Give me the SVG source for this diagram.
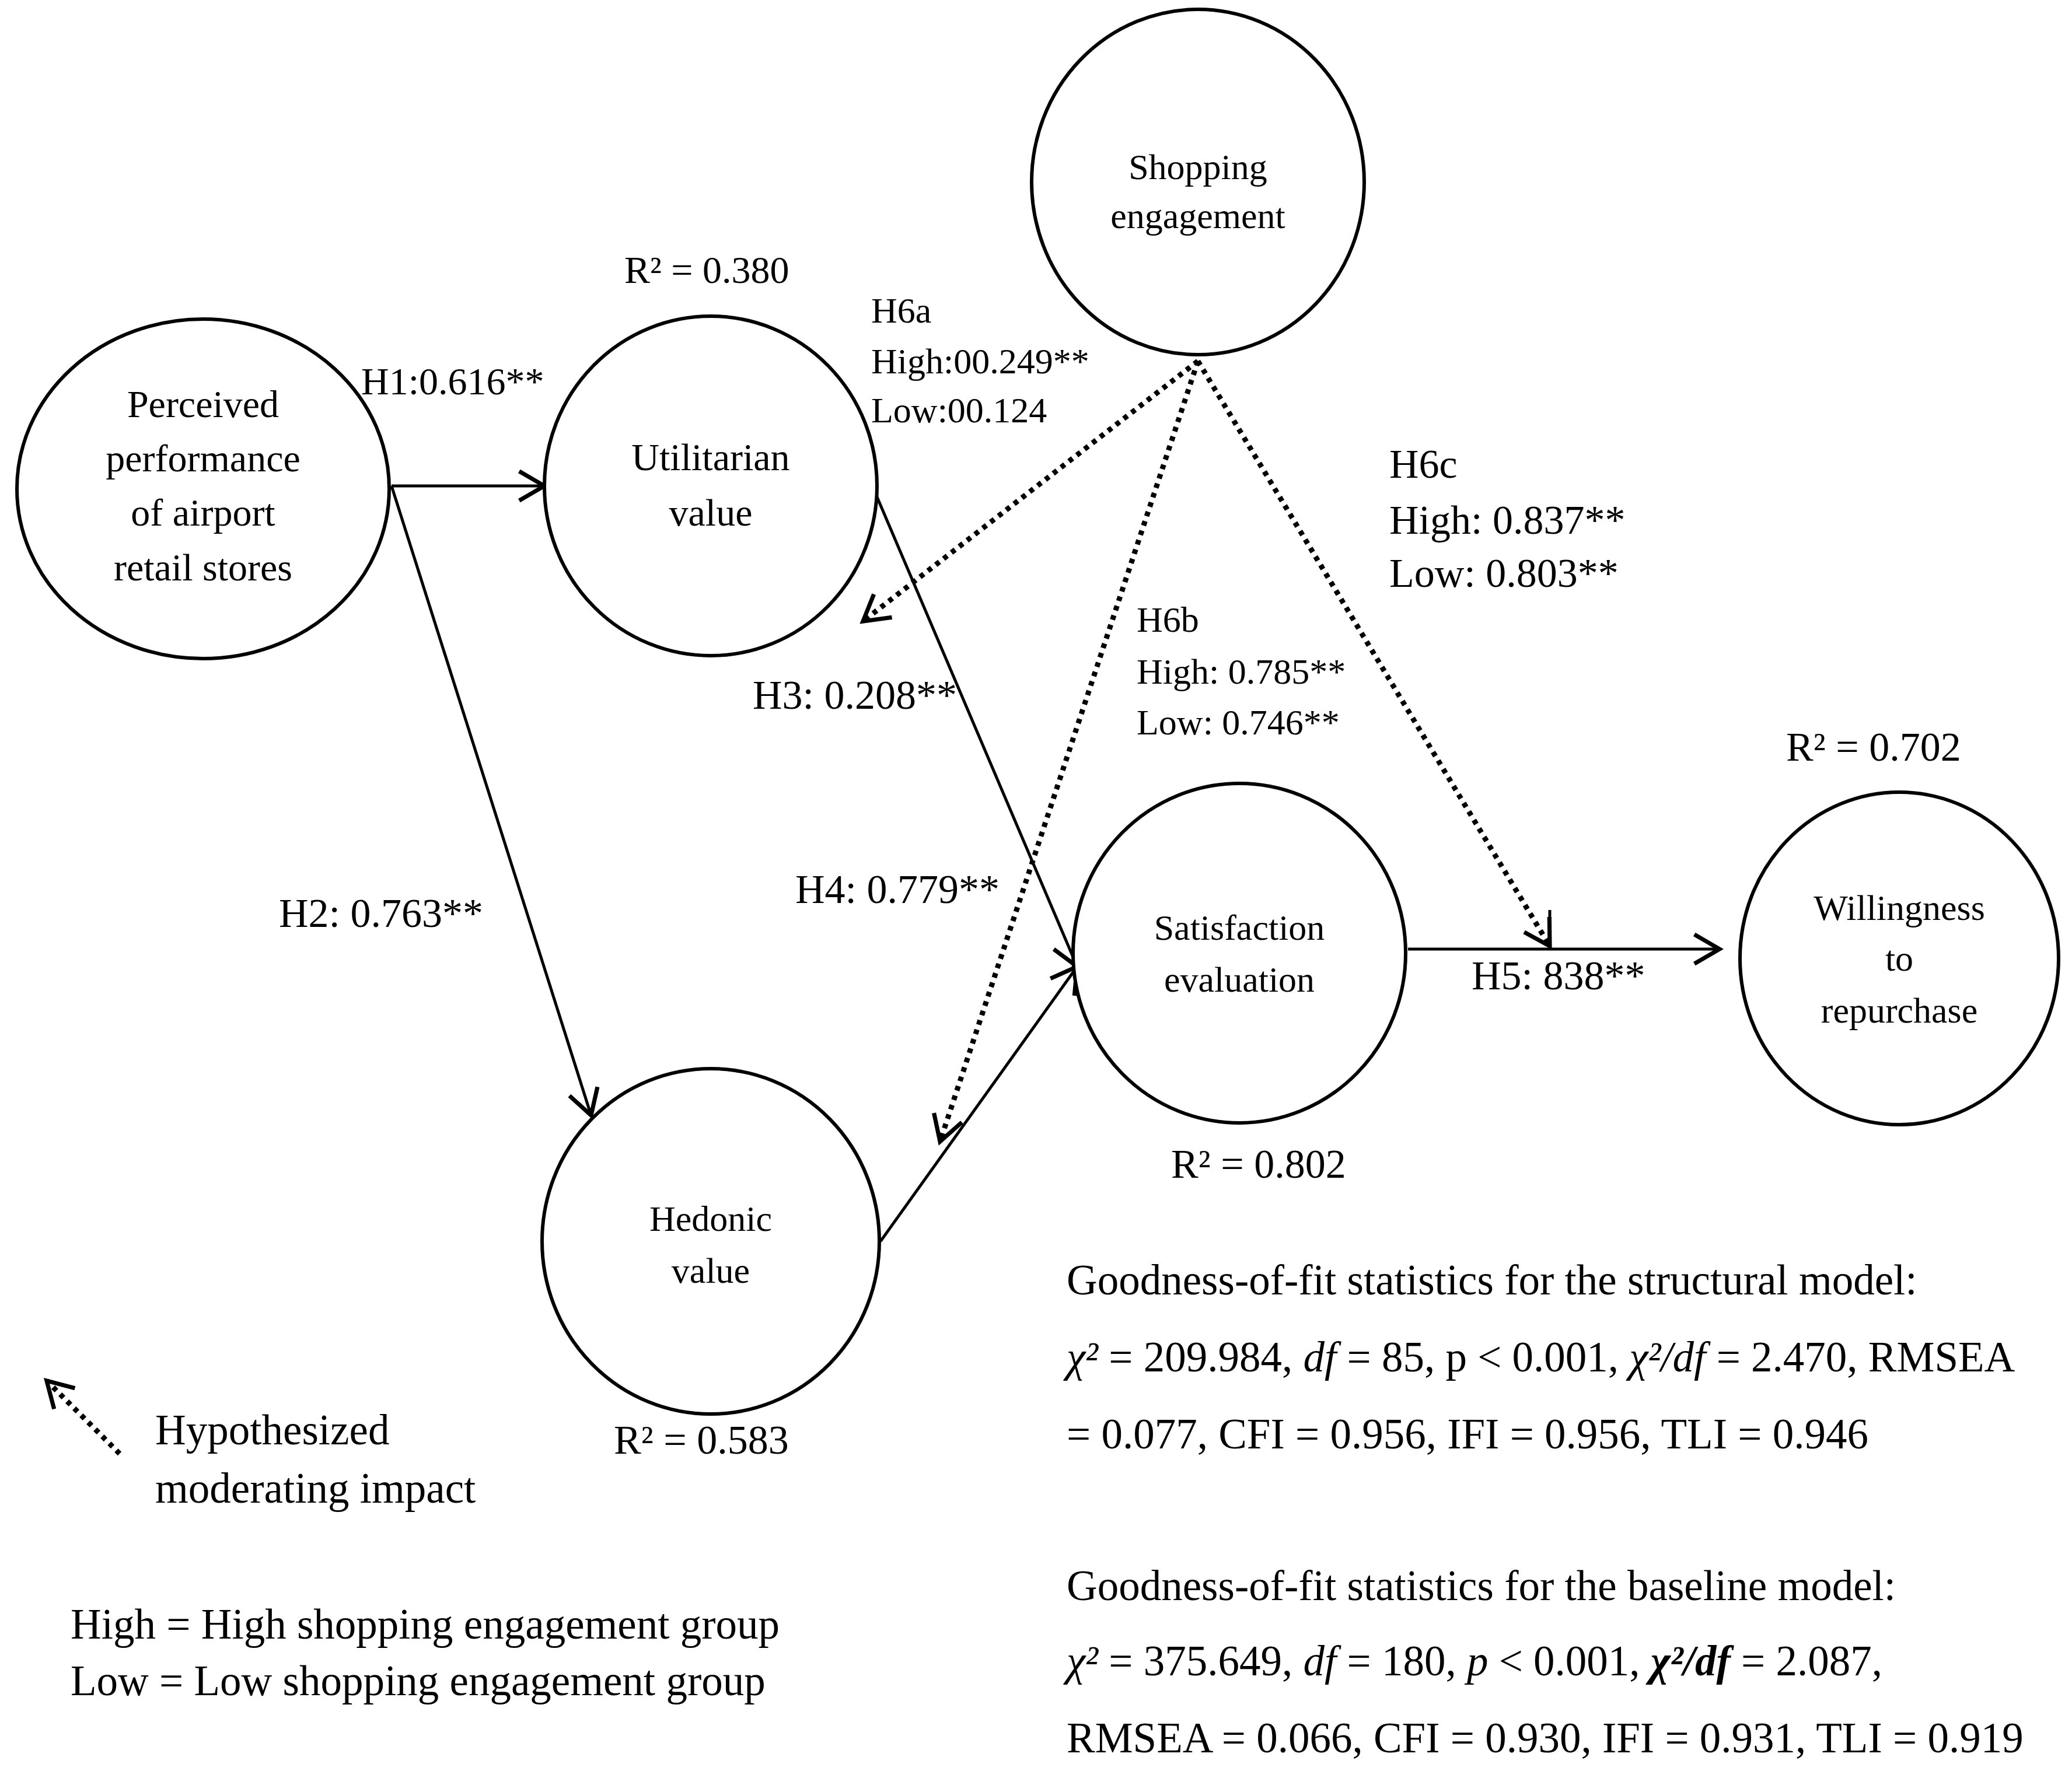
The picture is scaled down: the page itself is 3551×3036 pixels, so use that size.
<svg xmlns="http://www.w3.org/2000/svg" width="3551" height="3036" viewBox="0 0 3551 3036">
<style>
text{font-family:"Liberation Serif","DejaVu Serif",serif;font-size:66px;fill:#000}
.c{text-anchor:middle}
.s{font-size:62px}
.g{font-size:70px}
.b{font-size:73px}
.n{fill:#fff;stroke:#000;stroke-width:6}
.l{stroke:#000;stroke-width:5;fill:none}
.d{stroke:#000;stroke-width:9;fill:none;stroke-dasharray:8 9}
</style>
<defs>
<marker id="a" markerUnits="userSpaceOnUse" markerWidth="60" markerHeight="60" refX="44" refY="25" orient="auto" viewBox="0 0 50 50">
<path d="M8,4 L44,25 L8,46" fill="none" stroke="#000" stroke-width="6"/>
</marker>
</defs>
<rect width="3551" height="3036" fill="#fff"/>
<g id="connectors">
<line class="l" x1="671" y1="833" x2="933" y2="833" marker-end="url(#a)"/>
<line class="l" x1="671" y1="833" x2="1013" y2="1912" marker-end="url(#a)"/>
<line class="l" x1="1495" y1="833" x2="1846" y2="1657" marker-end="url(#a)"/>
<line class="l" x1="1509" y1="2128" x2="1846" y2="1657" marker-end="url(#a)"/>
<line class="l" x1="2413" y1="1627" x2="2947" y2="1627" marker-end="url(#a)"/>
<line class="d" x1="2053" y1="619" x2="1479" y2="1065" marker-end="url(#a)"/>
<line class="d" x1="2053" y1="619" x2="1611" y2="1957" marker-end="url(#a)"/>
<line class="d" x1="2053" y1="619" x2="2656" y2="1622" marker-end="url(#a)"/>
<line class="l" x1="2656" y1="1560" x2="2656" y2="1627"/>
<line class="d" x1="205" y1="2492" x2="80" y2="2367" marker-end="url(#a)"/>
</g>
<g id="perceived"><ellipse class="n" cx="348" cy="838" rx="319" ry="291"/>
<text class="c" x="348" y="715">Perceived</text><text class="c" x="348" y="808">performance</text><text class="c" x="348" y="901">of airport</text><text class="c" x="348" y="995">retail stores</text></g>
<g id="utilitarian"><ellipse class="n" cx="1218" cy="833" rx="285" ry="291"/>
<text class="c" x="1218" y="806">Utilitarian</text><text class="c" x="1218" y="901">value</text></g>
<g id="shopping"><ellipse class="n" cx="2053" cy="312" rx="285" ry="296"/>
<text class="c s" x="2053" y="307">Shopping</text><text class="c s" x="2053" y="391">engagement</text></g>
<g id="satisfaction"><ellipse class="n" cx="2124" cy="1634" rx="285" ry="291"/>
<text class="c s" x="2124" y="1611">Satisfaction</text><text class="c s" x="2124" y="1700">evaluation</text></g>
<g id="hedonic"><ellipse class="n" cx="1218" cy="2128" rx="289" ry="296"/>
<text class="c s" x="1218" y="2110">Hedonic</text><text class="c s" x="1218" y="2199">value</text></g>
<g id="willingness"><ellipse class="n" cx="3255" cy="1643" rx="273" ry="285"/>
<text class="c s" x="3255" y="1577">Willingness</text><text class="c s" x="3255" y="1664">to</text><text class="c s" x="3255" y="1753">repurchase</text></g>
<g id="labels">
<text x="1070" y="485">R² = 0.380</text>
<text class="s" x="1493" y="553">H6a</text>
<text class="s" x="1493" y="640">High:00.249**</text>
<text class="s" x="1493" y="724">Low:00.124</text>
<text x="619" y="676">H1:0.616**</text>
<text class="g" x="2381" y="819">H6c</text>
<text class="g" x="2381" y="915">High: 0.837**</text>
<text class="g" x="2381" y="1006">Low: 0.803**</text>
<text class="s" x="1948" y="1083">H6b</text>
<text class="s" x="1948" y="1172">High: 0.785**</text>
<text class="s" x="1948" y="1259">Low: 0.746**</text>
<text class="g" x="1290" y="1215">H3: 0.208**</text>
<text class="g" x="3061" y="1304">R² = 0.702</text>
<text class="g" x="1363" y="1548">H4: 0.779**</text>
<text class="g" x="478" y="1589">H2: 0.763**</text>
<text class="g" x="2522" y="1696">H5: 838**</text>
<text class="g" x="2007" y="2019">R² = 0.802</text>
<text class="g" x="1052" y="2492">R² = 0.583</text>
<text class="b" x="266" y="2476">Hypothesized</text>
<text class="b" x="266" y="2576">moderating impact</text>
<text class="b" x="121" y="2809">High = High shopping engagement group</text>
<text class="b" x="121" y="2906">Low = Low shopping engagement group</text>
<text class="b" x="1828" y="2219">Goodness-of-fit statistics for the structural model:</text>
<text class="b" x="1828" y="2351"><tspan font-style="italic">χ²</tspan> = 209.984, <tspan font-style="italic">df</tspan> = 85, p &lt; 0.001, <tspan font-style="italic">χ²/df</tspan> = 2.470, RMSEA</text>
<text class="b" x="1828" y="2483">= 0.077, CFI = 0.956, IFI = 0.956, TLI = 0.946</text>
<text class="b" x="1828" y="2743">Goodness-of-fit statistics for the baseline model:</text>
<text class="b" x="1828" y="2872"><tspan font-style="italic">χ²</tspan> = 375.649, <tspan font-style="italic">df</tspan> = 180, <tspan font-style="italic">p</tspan> &lt; 0.001, <tspan font-style="italic" font-weight="bold">χ²/df</tspan> = 2.087,</text>
<text class="b" x="1828" y="3004">RMSEA = 0.066, CFI = 0.930, IFI = 0.931, TLI = 0.919</text>
</g>
</svg>
